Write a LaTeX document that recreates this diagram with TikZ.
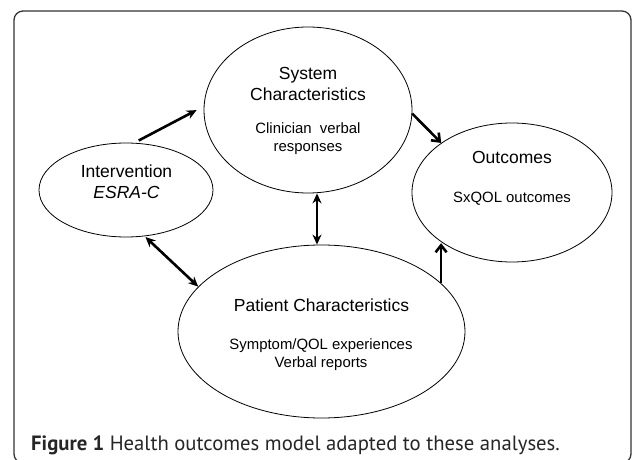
\documentclass[tikz,border=0pt]{standalone}
\usepackage{fontspec}
\setmainfont{Liberation Sans}
\newfontfamily\capfont{PT Sans}
\usetikzlibrary{shapes.geometric,arrows.meta}
\begin{document}
\begin{tikzpicture}[x=1pt,y=-1pt,
  oval/.style={draw, ellipse, line width=0.8pt, inner sep=0pt},
  big/.style={anchor=base, font=\fontsize{17.5}{20}\selectfont, inner sep=0pt},
  small/.style={anchor=base, font=\fontsize{14.9}{17}\selectfont, inner sep=0pt},
  fat/.style={line width=2.6pt, -{Stealth[length=10pt,width=9pt]}},
  fatboth/.style={line width=2.6pt, {Stealth[length=10pt,width=9pt]}-{Stealth[length=10pt,width=9pt]}},
  barb/.style={line width=2.6pt, -{Straight Barb[length=7pt,width=11pt]}}]
\useasboundingbox (0,0) rectangle (633,460);
\draw[line width=1.3pt, black!80, rounded corners=9pt] (14,11) rectangle (631,463);

\node[oval, minimum width=208pt, minimum height=166pt] (sys) at (308,110) {};
\node[oval, minimum width=174pt, minimum height=94pt] (int) at (126,190) {};
\node[oval, minimum width=200pt, minimum height=139pt] (out) at (512,192.5) {};
\node[oval, minimum width=287pt, minimum height=173pt] (pat) at (321.5,331.5) {};

\node[big] (sysA) at (308,80) {System};
\node[big] (sysB) at (308,101) {Characteristics};
\node[small] (sysC) at (308,134) {Clinician\ \ verbal};
\node[small] (sysD) at (308,152) {responses};

\node[big] (intA) at (126.5,178) {Intervention};
\node[big] (intB) at (126.5,199) {\itshape ESRA-C};

\node[big] (outA) at (512,164) {Outcomes};
\node[small] (outB) at (512,203) {SxQOL outcomes};

\node[big] (patA) at (321.5,311) {Patient Characteristics};
\node[small] (patB) at (321,349) {Symptom/QOL experiences};
\node[small] (patC) at (321,367) {Verbal reports};

\node[anchor=base west, inner sep=0pt, font=\capfont\fontsize{20.7}{24}\selectfont, text=black!85] (cap) at (31,450)
  {\textbf{Figure 1} Health outcomes model adapted to these analyses.};

\draw[fat, shorten <=5pt, shorten >=8pt] (int.80) -- (sys.178);
\draw[barb] (sys.-2) -- (out.145);
\draw[fatboth] ([xshift=9pt]sys.south) -- ([xshift=9pt]sys.south |- pat.north);
\draw[fatboth, shorten <=1pt] (int.-68) -- (pat.160.6);
\draw[barb, shorten >=4pt] (pat.22.6) -- (pat.22.6 |- out.212);
\end{tikzpicture}
\end{document}
